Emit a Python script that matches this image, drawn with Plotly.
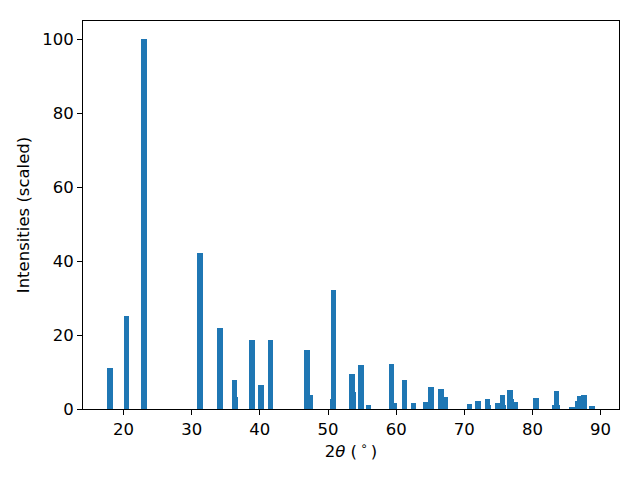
import plotly.graph_objects as go

two_theta = [18.02, 20.44, 22.99, 31.20, 34.17, 36.30, 36.42, 38.87, 40.19, 41.59,
             46.95, 47.43, 50.72, 50.84, 53.55, 53.74, 54.87, 55.98, 59.35, 59.77,
             61.19, 62.58, 64.35, 65.08, 66.55, 67.28, 70.73, 71.98, 73.38, 73.57,
             74.95, 75.58, 75.77, 76.68, 76.95, 77.49, 80.50, 83.32, 83.51, 83.70,
             85.79, 86.70, 87.00, 87.55, 87.66, 88.72]
intensity = [11.1, 25.2, 100.0, 42.3, 22.0, 7.9, 3.3, 18.7, 6.5, 18.7,
             16.0, 3.8, 2.7, 32.2, 9.5, 4.6, 11.9, 1.1, 12.2, 1.6,
             7.9, 1.6, 1.9, 6.0, 5.4, 3.3, 1.4, 2.2, 2.7, 1.1,
             1.6, 3.8, 1.1, 5.1, 2.7, 1.9, 3.0, 1.1, 4.9, 1.1,
             0.5, 2.2, 3.5, 3.8, 1.4, 0.8]

x_ticks = [20, 30, 40, 50, 60, 70, 80, 90]
y_ticks = [0, 20, 40, 60, 80, 100]

fig = go.Figure(go.Bar(
    x=two_theta, y=intensity, width=0.8,
    marker=dict(color="#1f77b4", line=dict(width=0)),
))

axis_common = dict(
    showgrid=False, zeroline=False, showline=True, linecolor="black", linewidth=1,
    mirror=True, ticks="outside", ticklen=5, tickwidth=1, tickcolor="black",
    tickfont=dict(family="DejaVu Sans", size=16.5, color="black"),
)

# page body has an 8px default margin; compensate in the figure margins
fig.update_layout(
    width=640, height=480,
    margin=dict(l=75, r=29, t=13, b=79),
    paper_bgcolor="white", plot_bgcolor="white",
    showlegend=False, bargap=0,
    font=dict(family="DejaVu Sans", size=16.5, color="black"),
    xaxis=dict(range=[14.05, 92.7], tickvals=x_ticks, automargin=False,
               title=dict(text="2<i>θ</i> (\u2009<sup>∘</sup>\u2009)", standoff=6,
                          font=dict(family="DejaVu Sans", size=16.5)),
               **axis_common),
    yaxis=dict(range=[0, 105], tickvals=y_ticks, automargin=False,
               title=dict(text="Intensities (scaled)", standoff=8,
                          font=dict(family="DejaVu Sans", size=16.5)),
               **axis_common),
)

fig.write_html("out.html")
